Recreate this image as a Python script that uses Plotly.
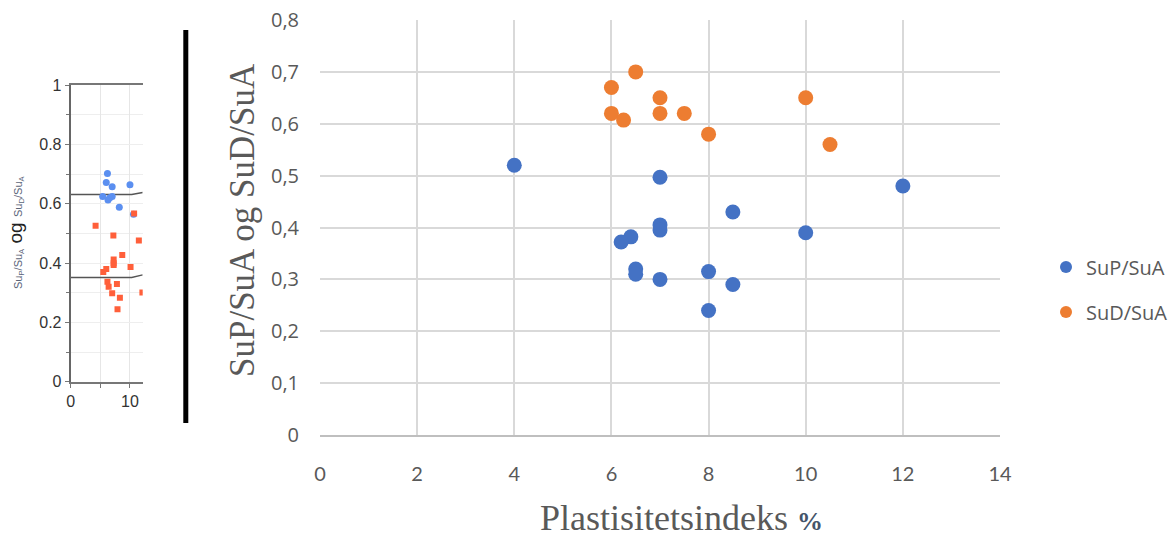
import plotly.graph_objects as go

W, H = 1175, 542

# Main chart: plasticity index vs. strength ratios
sup_x = [4, 7, 12, 8.5, 7, 7, 10, 6.4, 6.2, 6.5, 6.5, 7, 8, 8.5, 8]
sup_y = [0.52, 0.497, 0.48, 0.43, 0.405, 0.395, 0.39, 0.382, 0.372, 0.32, 0.31, 0.30, 0.315, 0.29, 0.24]
sud_x = [6.5, 6, 7, 10, 6, 6.25, 7, 7.5, 8, 10.5]
sud_y = [0.70, 0.67, 0.65, 0.65, 0.62, 0.607, 0.62, 0.62, 0.58, 0.56]
y_ticks = [0, 0.1, 0.2, 0.3, 0.4, 0.5, 0.6, 0.7, 0.8]
y_tick_text = ["0", "0,1", "0,2", "0,3", "0,4", "0,5", "0,6", "0,7", "0,8"]

# Small reference chart on the left
ref_circ_x = [6.2, 6.0, 7.0, 10.0, 5.4, 6.3, 7.0, 6.6, 8.2, 10.6]
ref_circ_y = [0.702, 0.671, 0.657, 0.664, 0.624, 0.612, 0.624, 0.62, 0.588, 0.564]
ref_sq_x = [10.7, 4.2, 7.2, 11.5, 8.7, 7.25, 7.25, 7.25, 10.1, 6.0, 5.5, 6.2, 6.4, 7.8, 7.0, 8.3, 7.9, 12.1]
ref_sq_y = [0.567, 0.526, 0.493, 0.476, 0.427, 0.412, 0.399, 0.393, 0.387, 0.38, 0.37,
            0.337, 0.32, 0.329, 0.298, 0.283, 0.244, 0.301]
ref_line_x = [0, 10.3, 12.15]
ref_upper_y = [0.631, 0.631, 0.638]
ref_lower_y = [0.351, 0.351, 0.36]

BLUE = "#4472C4"
ORANGE = "#ED7D31"
GRAY_TXT = "#595959"
GRID = "#d9d9d9"


def px_x(p):
    return p / W


def px_y(p):
    return 1 - p / H


fig = go.Figure()

fig.add_trace(go.Scatter(x=sup_x, y=sup_y, mode="markers", name="SuP/SuA", legend="legend",
                         marker=dict(color=BLUE, size=15), xaxis="x", yaxis="y"))
fig.add_trace(go.Scatter(x=sud_x, y=sud_y, mode="markers", name="SuD/SuA", legend="legend2",
                         marker=dict(color=ORANGE, size=15), xaxis="x", yaxis="y"))

fig.add_trace(go.Scatter(x=ref_line_x, y=ref_upper_y, mode="lines", showlegend=False,
                         line=dict(color="#555555", width=1.5), xaxis="x2", yaxis="y2"))
fig.add_trace(go.Scatter(x=ref_line_x, y=ref_lower_y, mode="lines", showlegend=False,
                         line=dict(color="#555555", width=1.5), xaxis="x2", yaxis="y2"))
fig.add_trace(go.Scatter(x=ref_circ_x, y=ref_circ_y, mode="markers", showlegend=False,
                         marker=dict(color="#5b8ff0", size=7), xaxis="x2", yaxis="y2"))
fig.add_trace(go.Scatter(x=ref_sq_x, y=ref_sq_y, mode="markers", showlegend=False,
                         marker=dict(color="#ff5f3a", size=6, symbol="square"),
                         xaxis="x2", yaxis="y2"))

legend_font = dict(family="Open Sans, Arial", size=20, color=GRAY_TXT)

fig.update_layout(
    width=W, height=H,
    margin=dict(l=0, r=0, t=0, b=0, autoexpand=False),
    paper_bgcolor="white", plot_bgcolor="white",
    showlegend=True,
    legend=dict(x=px_x(1046), y=px_y(267), xanchor="left", yanchor="middle",
                font=legend_font, itemsizing="constant", bgcolor="rgba(0,0,0,0)"),
    legend2=dict(x=px_x(1046), y=px_y(312), xanchor="left", yanchor="middle",
                 font=legend_font, itemsizing="constant", bgcolor="rgba(0,0,0,0)"),
    xaxis=dict(domain=[px_x(320), px_x(1000)], range=[0, 14], dtick=2,
               showgrid=True, gridcolor=GRID, gridwidth=1.5,
               showline=True, linecolor="#bfbfbf", linewidth=2,
               zeroline=False, ticks="", ticklabelstandoff=20,
               tickfont=dict(family="Liberation Sans Narrow, Arial Narrow, Lato",
                             size=20, color=GRAY_TXT),
               anchor="y"),
    yaxis=dict(domain=[px_y(435), px_y(20)], range=[0, 0.8],
               tickvals=y_ticks, ticktext=y_tick_text,
               showgrid=True, gridcolor=GRID, gridwidth=1.5,
               zeroline=False, showline=False, ticks="", ticklabelstandoff=20,
               tickfont=dict(family="Open Sans, Arial", size=20, color=GRAY_TXT),
               anchor="x"),
    xaxis2=dict(domain=[px_x(70.7), px_x(142.7)], range=[0, 12.15],
                tickvals=[0, 5, 10], ticktext=["0", "", "10"],
                showgrid=True, gridcolor="#e6e6e6", gridwidth=1,
                showline=True, mirror=True, linecolor="#777777", linewidth=2,
                zeroline=False, ticks="outside", ticklen=4, tickcolor="#777777",
                tickfont=dict(family="Liberation Sans, Arial", size=16, color="#333333"),
                anchor="y2"),
    yaxis2=dict(domain=[px_y(381.7), px_y(85)], range=[0, 1],
                tickvals=[0, 0.2, 0.4, 0.6, 0.8, 1], ticktext=["0", "0.2", "0.4", "0.6", "0.8", "1"],
                showgrid=True, gridcolor="#eeeeee", gridwidth=1,
                minor=dict(dtick=0.1, ticks="outside", ticklen=3, tickcolor="#777777",
                           showgrid=True, gridcolor="#eeeeee"),
                showline=True, linecolor="#666666", linewidth=2,
                zeroline=False, ticks="outside", ticklen=4, tickcolor="#777777",
                tickfont=dict(family="Liberation Sans, Arial", size=16, color="#333333"),
                anchor="x2"),
)

fig.add_annotation(
    text=("Plastisitetsindeks "
          "<span style='font-size:26px;color:#44546A'><b>%</b></span>"),
    x=px_x(681), y=px_y(518), xref="paper", yref="paper", showarrow=False,
    xanchor="center", yanchor="middle",
    font=dict(family="Liberation Serif, Times New Roman", size=36, color=GRAY_TXT))

fig.add_annotation(
    text="SuP/SuA og SuD/SuA",
    x=px_x(242), y=px_y(220), xref="paper", yref="paper", showarrow=False,
    textangle=-90, xanchor="center", yanchor="middle",
    font=dict(family="Liberation Serif, Times New Roman", size=35, color=GRAY_TXT))

fig.add_annotation(
    text=("<span style='font-size:11px;color:#5a6478'>Su<sub>P</sub>/Su<sub>A</sub></span>"
          " og "
          "<span style='font-size:11px;color:#5a6478'>Su<sub>D</sub>/Su<sub>A</sub></span>"),
    x=px_x(15), y=px_y(232), xref="paper", yref="paper", showarrow=False,
    textangle=-90, xanchor="center", yanchor="middle",
    font=dict(family="Liberation Sans, Arial", size=19, color="#222222"))

# Thick separator between the two charts
fig.add_shape(type="line", xref="paper", yref="paper",
              x0=px_x(185.8), x1=px_x(185.8), y0=px_y(30), y1=px_y(423),
              line=dict(color="black", width=5))

fig.write_html("out.html")
